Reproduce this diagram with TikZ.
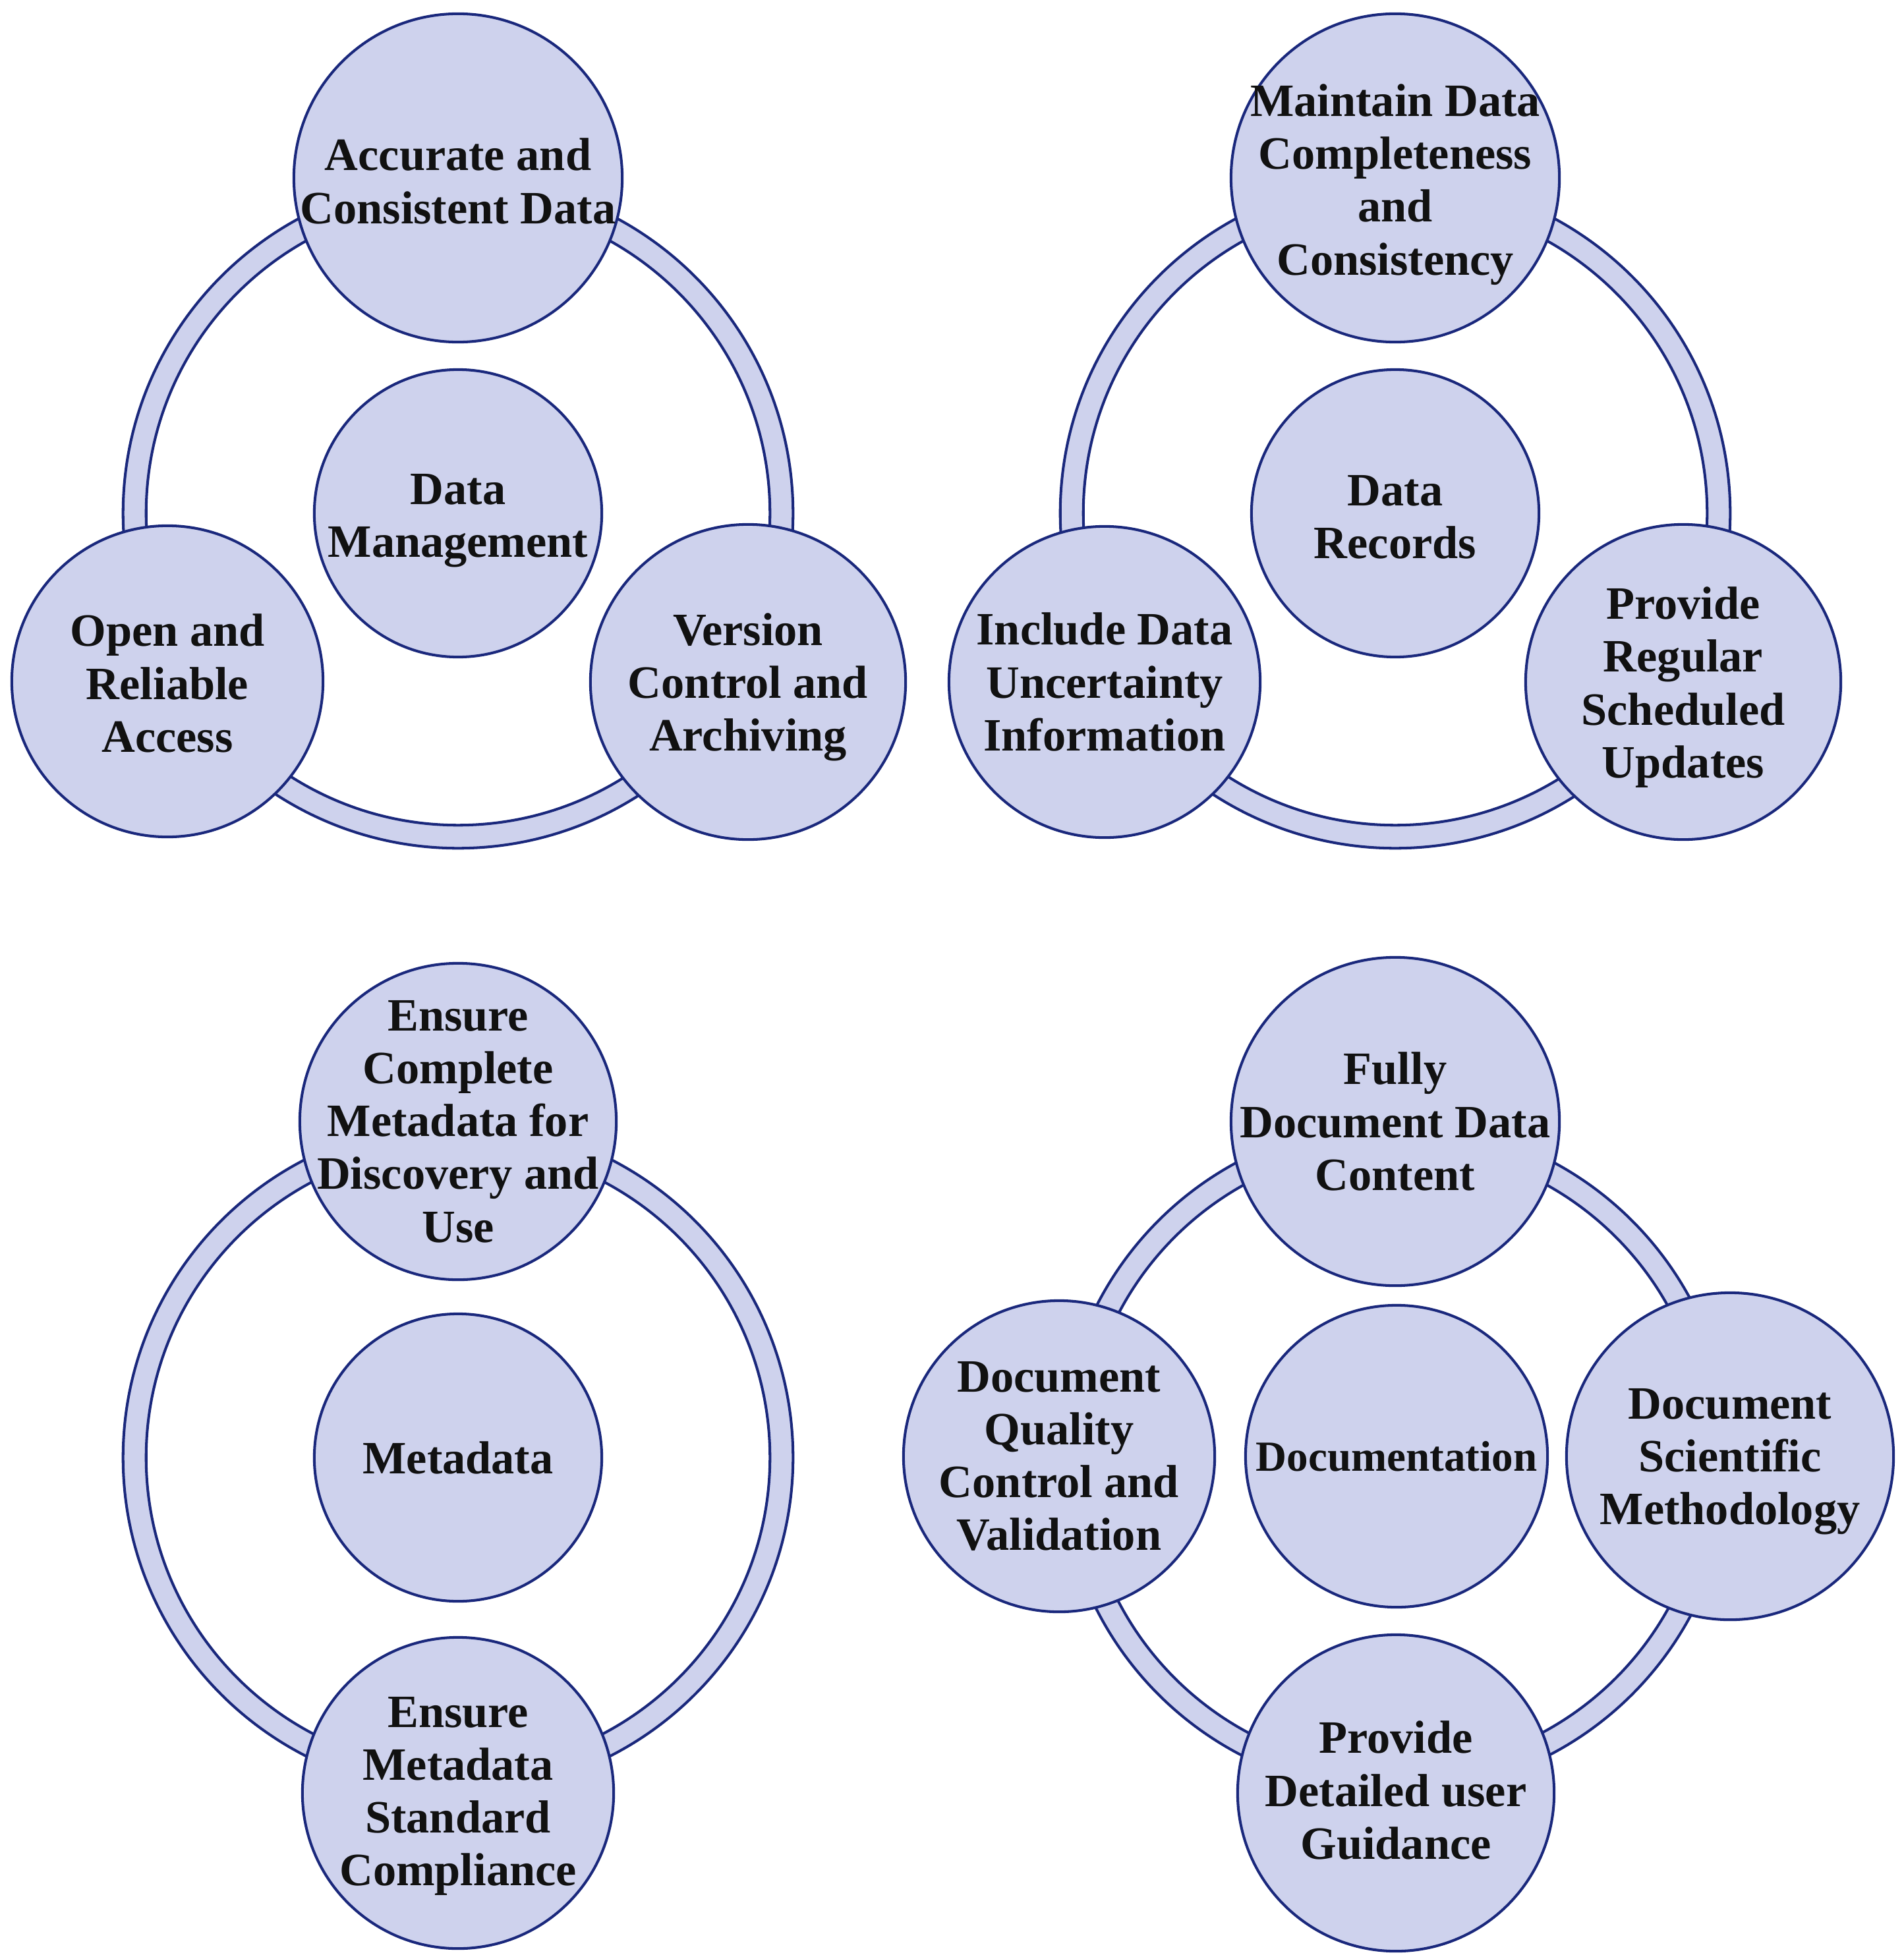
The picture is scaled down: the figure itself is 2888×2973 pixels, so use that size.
\documentclass[tikz,border=0pt]{standalone}
\usepackage{fontspec}
\setmainfont{Liberation Serif}
\definecolor{bubfill}{RGB}{206,210,237}
\definecolor{bubedge}{RGB}{26,40,124}
\definecolor{txtcol}{RGB}{17,17,17}
\tikzset{
  bub/.style={circle, draw=bubedge, fill=bubfill, line width=1.15pt, inner sep=0pt},
  txt/.style={align=center, font=\fontsize{20}{22.8}\selectfont\bfseries, text=txtcol, inner sep=0pt},
  smalltxt/.style={txt, font=\fontsize{18.5}{22}\selectfont\bfseries},
  ringline/.style={draw=bubedge, line width=1.15pt},
}
% name, x, y, diameter, text style, text, text offset (px, downwards)
\newcommand{\bubble}[7]{%
  \node[bub, minimum size=#4] (#1) at (#2,#3) {};
  \node[#5] (#1-t) at ([yshift=-#7*0.01cm]#1.center) {#6};
}
\newcommand{\ringband}[1]{%
  \fill[bubfill, even odd rule] (#1) circle[radius=5.08cm] circle[radius=4.73cm];
  \draw[ringline] (#1) circle[radius=5.08cm];
  \draw[ringline] (#1) circle[radius=4.73cm];
}
\begin{document}
\begin{tikzpicture}[x=0.01cm, y=-0.01cm]
\useasboundingbox (0,0) rectangle (2888,2973);

% ---------- top left: Data Management ----------
\coordinate (tl) at (695,779);
\ringband{tl}
\bubble{tl-top}{695}{270}{4.98cm}{txt}{Accurate and\\Consistent Data}{5}
\bubble{tl-c}{695}{779}{4.36cm}{txt}{Data\\Management}{11}
\bubble{tl-l}{254}{1034}{4.72cm}{txt}{Open and\\Reliable\\Access}{3}
\bubble{tl-r}{1135}{1035}{4.78cm}{txt}{Version\\Control and\\Archiving}{8}

% ---------- top right: Data Records ----------
\coordinate (tr) at (2117,779);
\ringband{tr}
\bubble{tr-top}{2117}{270}{4.98cm}{txt}{Maintain Data\\Completeness\\and\\Consistency}{10}
\bubble{tr-c}{2117}{779}{4.36cm}{txt}{Data\\Records}{6}
\bubble{tr-l}{1676}{1035}{4.72cm}{txt}{Include Data\\Uncertainty\\Information}{0}
\bubble{tr-r}{2554}{1035}{4.78cm}{txt}{Provide\\Regular\\Scheduled\\Updates}{8}

% ---------- bottom left: Metadata ----------
\coordinate (bl) at (695,2212);
\ringband{bl}
\bubble{bl-top}{695}{1702}{4.80cm}{txt}{Ensure\\Complete\\Metadata for\\Discovery and\\Use}{0}
\bubble{bl-c}{695}{2212}{4.36cm}{txt}{Metadata}{0}
\bubble{bl-b}{695}{2721}{4.72cm}{txt}{Ensure\\Metadata\\Standard\\Compliance}{5}

% ---------- bottom right: Documentation ----------
\coordinate (br) at (2117,2212);
\ringband{br}
\bubble{br-top}{2117}{1702}{4.98cm}{txt}{Fully\\Document Data\\Content}{0}
\bubble{br-c}{2119}{2210}{4.58cm}{smalltxt}{Documentation}{0}
\bubble{br-l}{1607}{2210}{4.72cm}{txt}{Document\\Quality\\Control and\\Validation}{0}
\bubble{br-r}{2625}{2210}{4.96cm}{txt}{Document\\Scientific\\Methodology}{8}
\bubble{br-b}{2118}{2721}{4.80cm}{txt}{Provide\\Detailed user\\Guidance}{-4}
\end{tikzpicture}
\end{document}
